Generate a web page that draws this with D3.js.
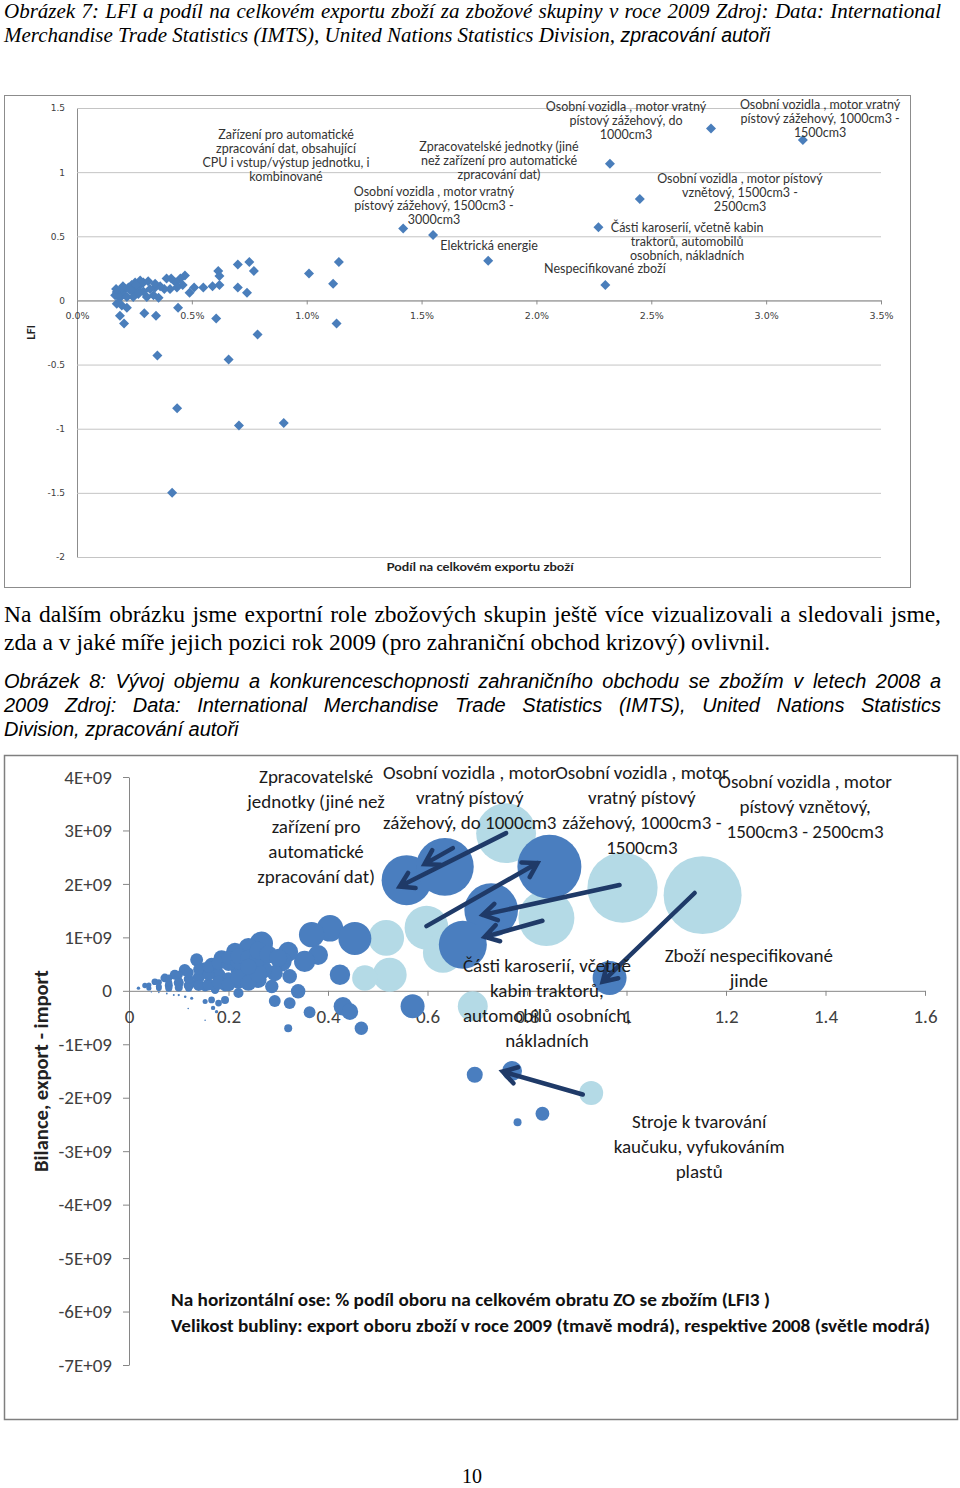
<!DOCTYPE html>
<html><head><meta charset="utf-8">
<script src="https://cdn.jsdelivr.net/npm/d3@7"></script>
<style>
body{margin:0;background:#fff;width:960px;height:1488px;overflow:hidden}
svg{display:block}
</style></head><body>
<script>
// ---------- DATA ----------
// Chart 1: share of total export (%) vs LFI, 2009
const shareTicks = [0, 0.5, 1, 1.5, 2, 2.5, 3, 3.5];
const lfiTicks = [-2, -1.5, -1, -0.5, 0, 0.5, 1, 1.5];
const lfiPoints = [
  [1.42,0.56],[1.55,0.51],[1.79,0.31],[2.32,1.065],[2.76,1.34],[3.16,1.25],[2.45,0.79],[2.27,0.57],[2.30,0.12],
  [0.75,0.30],[0.70,0.28],[0.77,0.23],[0.615,0.23],[0.62,0.19],[1.01,0.21],[1.14,0.30],[1.115,0.13],[0.70,0.10],
  [0.74,0.06],[0.62,0.12],[0.59,0.11],[0.55,0.10],[0.51,0.10],[0.49,0.06],
  [0.47,0.195],[0.45,0.17],[0.41,0.17],[0.43,0.14],[0.46,0.12],[0.435,0.10],[0.405,0.09],[0.38,0.09],[0.39,0.17],
  [0.362,0.11],[0.34,0.10],[0.318,0.09],[0.333,0.04],[0.355,0.02],[0.304,0.026],[0.289,0.07],[0.275,0.12],[0.26,0.09],
  [0.245,0.065],[0.238,0.12],[0.224,0.10],[0.21,0.09],[0.20,0.05],[0.187,0.08],[0.173,0.065],[0.166,0.04],[0.187,0.02],
  [0.217,0.026],[0.245,0.026],[0.267,0.05],[0.289,0.14],[0.275,0.155],[0.253,0.14],[0.231,0.08],[0.31,0.15],[0.34,0.13],
  [0.17,0.09],[0.20,0.11],[0.26,0.12],
  [0.173,-0.026],[0.195,-0.04],[0.217,-0.057],[0.187,-0.12],[0.205,-0.18],[0.293,-0.10],[0.344,-0.12],[0.44,-0.057],
  [0.606,-0.14],[0.786,-0.265],[1.13,-0.18],[0.35,-0.43],[0.66,-0.46],[0.436,-0.84],[0.705,-0.975],[0.90,-0.955],[0.414,-1.50]
];
const lfiLabels = [
  {x:0.91, y:1.29, lines:["Zařízení pro automatické","zpracování dat, obsahující","CPU i vstup/výstup jednotku, i","kombinované"]},
  {x:1.837, y:1.20, lines:["Zpracovatelské jednotky (jiné","než zařízení pro automatické","zpracování dat)"]},
  {x:1.554, y:0.85, lines:["Osobní vozidla , motor vratný","pístový zážehový, 1500cm3 -","3000cm3"]},
  {x:1.794, y:0.43, lines:["Elektrická energie"]},
  {x:2.39, y:1.507, lines:["Osobní vozidla , motor vratný","pístový zážehový, do","1000cm3"]},
  {x:3.235, y:1.523, lines:["Osobní vozidla , motor vratný","pístový zážehový, 1000cm3 -","1500cm3"]},
  {x:2.886, y:0.946, lines:["Osobní vozidla , motor pístový","vznětový, 1500cm3 -","2500cm3"]},
  {x:2.656, y:0.571, lines:["Části karoserií, včetně kabin","traktorů, automobilů","osobních, nákladních"]},
  {x:2.298, y:0.245, lines:["Nespecifikované zboží"]}
];

// Chart 2: LFI3 share vs balance (E+09), bubble = export
const lfi3Ticks = [0, 0.2, 0.4, 0.6, 0.8, 1, 1.2, 1.4, 1.6];
const balanceTicks = [-7,-6,-5,-4,-3,-2,-1,0,1,2,3,4]; // in E+09
const bubbles2008 = [
  [0.758,2.95,56],[0.992,1.93,77],[1.153,1.79,95],[0.598,1.18,30],[0.839,1.36,49],[0.631,0.71,25],
  [0.517,0.99,20],[0.524,0.30,18],[0.691,-0.29,14],[0.929,-1.91,9],[0.474,0.24,10]
];
const bubbles2009 = [
  [0.558,2.07,39],[0.635,2.32,52],[0.845,2.32,64],[0.728,1.51,45],[0.671,0.86,36],[0.966,0.24,18],[0.570,-0.29,9],
  [0.695,-1.57,4],[0.770,-1.50,6.2],[0.831,-2.30,3],[0.781,-2.46,1],
  [0.404,1.17,11],[0.367,1.05,10],[0.454,0.98,17],[0.424,0.30,6.5],[0.38,0.67,6.2],[0.353,0.55,7],[0.32,0.73,6.2],
  [0.307,0.55,6.2],[0.266,0.89,8.5],[0.24,0.80,6.2],[0.213,0.73,5],[0.186,0.61,4],[0.166,0.49,3],[0.136,0.58,2.6],
  [0.112,0.39,2.2],[0.092,0.30,1.6],[0.072,0.24,1.2],[0.052,0.17,0.7],[0.032,0.10,0.45],[0.019,0.05,0.18],
  [0.26,0.21,4.3],[0.287,0.08,2.8],[0.34,-0.01,3.3],[0.323,0.27,3.3],[0.293,0.33,4],[0.22,0.17,3.3],[0.193,0.08,1.6],
  [0.22,-0.04,1.6],[0.153,0.08,1.6],[0.126,0.14,1.1],[0.173,0.02,1.1],
  [0.293,-0.19,2.2],[0.323,-0.23,2.2],[0.363,-0.40,2.2],[0.43,-0.29,5.4],[0.444,-0.39,4.3],[0.467,-0.70,2.8],
  [0.32,-0.70,1],[0.193,-0.17,1],[0.18,-0.23,0.7],[0.166,-0.17,0.7],[0.153,-0.20,0.4],[0.169,-0.32,0.3],[0.176,-0.39,0.18],
  [0.10,0.15,1.6],[0.14,0.25,2.2],[0.18,0.30,3],[0.22,0.40,4],[0.25,0.50,5],[0.27,0.40,5],[0.20,0.22,3],[0.24,0.30,4],
  [0.15,0.42,2.2],[0.08,0.10,1],[0.12,0.05,0.8],[0.06,0.05,0.5],
  [0.04,0.05,0.4],[0.04,0.11,0.4],[0.06,0.08,0.56],[0.06,0.16,0.56],[0.08,0.05,0.77],[0.08,0.15,0.77],[0.08,0.24,0.77],
  [0.10,0.06,1],[0.10,0.18,1],[0.10,0.30,1],[0.12,0.10,1.56],[0.12,0.22,1.56],[0.12,0.34,1.56],
  [0.14,0.10,1.9],[0.14,0.40,1.9],[0.16,0.12,2.25],[0.16,0.30,2.25],[0.16,0.45,2.25],
  [0.18,0.15,3],[0.18,0.52,3],[0.20,0.12,3],[0.20,0.50,3],[0.20,0.62,3],
  [0.22,0.25,4],[0.22,0.55,4],[0.22,0.65,4],[0.24,0.15,4],[0.24,0.62,4],[0.26,0.32,5],[0.26,0.62,5],[0.26,0.75,5],
  [0.28,0.68,5],[0.30,0.62,5],[0.24,0.45,4],
  [0.126,-0.14,0.15],[0.113,-0.11,0.1],[0.10,-0.08,0.08],[0.09,-0.08,0.06],[0.076,-0.05,0.05],[0.153,-0.55,0.04],
  [0.119,-0.33,0.04],[0.06,-0.03,0.04],[0.045,-0.02,0.03]
];
const moveArrows = [ // from 2008 to 2009: [x1,y1,x2,y2]
  [0.758,2.95,0.544,1.95],[0.651,2.67,0.594,2.37],[0.598,1.21,0.821,2.39],[0.986,1.98,0.711,1.42],
  [0.831,1.31,0.715,1.01],[1.137,1.83,0.952,0.17],[0.912,-1.94,0.751,-1.51]
];
const bubbleLabels = [
  {x:0.376, y:4.02, lines:["Zpracovatelské","jednotky (jiné než","zařízení pro","automatické","zpracování dat)"]},
  {x:0.685, y:4.09, lines:["Osobní vozidla , motor","vratný pístový","zážehový, do 1000cm3"]},
  {x:1.031, y:4.09, lines:["Osobní vozidla , motor","vratný pístový","zážehový, 1000cm3 -","1500cm3"]},
  {x:1.359, y:3.91, lines:["Osobní vozidla , motor","pístový vznětový,","1500cm3 - 2500cm3"]},
  {x:1.246, y:0.67, lines:["Zboží nespecifikované","jinde"]},
  {x:0.840, y:0.48, lines:["Části karoserií, včetně","kabin traktorů,","automobilů osobních,","nákladních"]},
  {x:1.146, y:-2.45, lines:["Stroje k tvarování","kaučuku, vyfukováním","plastů"]}
];

// ---------- PAGE ----------
const svg = d3.select('body').append('svg').attr('width',960).attr('height',1488);
const SERIF = '"Liberation Serif", "DejaVu Serif", serif';
const SANS = '"Liberation Sans", Arial, sans-serif';
const CAL = 'Carlito, Lato, "Open Sans", sans-serif';
const LATO = 'Lato, "Open Sans", sans-serif';

function justify(str, x0, x1, y, font, size, style) {
  const words = str.split(' ');
  const nodes = words.map(w => svg.append('text').attr('y', y).attr('font-family', font)
      .attr('font-size', size).attr('font-style', style || 'normal').attr('fill','#000').text(w));
  const widths = nodes.map(n => n.node().getComputedTextLength());
  const gap = (x1 - x0 - d3.sum(widths)) / (words.length - 1);
  let x = x0;
  nodes.forEach((n, i) => { n.attr('x', x); x += widths[i] + gap; });
}

// Caption 7
justify("Obrázek 7: LFI a podíl na celkovém exportu zboží za zbožové skupiny v roce 2009 Zdroj: Data: International", 4, 941, 18, SERIF, 21, 'italic');
const c7 = svg.append('text').attr('x',4).attr('y',42).attr('font-size',21).attr('font-style','italic');
c7.append('tspan').attr('font-family',SERIF).text("Merchandise Trade Statistics (IMTS), United Nations Statistics Division, ");
c7.append('tspan').attr('font-family',SANS).attr('font-size',19.5).text("zpracování autoři");

// Paragraph
justify("Na dalším obrázku jsme exportní role zbožových skupin ještě více vizualizovali a sledovali jsme,", 4, 941, 622, SERIF, 23.5);
svg.append('text').attr('x',4).attr('y',650).attr('font-family',SERIF).attr('font-size',23.5).text("zda a v jaké míře jejich pozici rok 2009 (pro zahraniční obchod krizový) ovlivnil.");

// Caption 8
justify("Obrázek 8: Vývoj objemu a konkurenceschopnosti zahraničního obchodu se zbožím v letech 2008 a", 4, 941, 688, SANS, 20, 'italic');
justify("2009 Zdroj: Data: International Merchandise Trade Statistics (IMTS), United Nations Statistics", 4, 941, 712, SANS, 20, 'italic');
svg.append('text').attr('x',4).attr('y',736).attr('font-family',SANS).attr('font-size',20).attr('font-style','italic').text("Division, zpracování autoři");

// Page number
svg.append('text').attr('x',472).attr('y',1483).attr('text-anchor','middle').attr('font-family',SERIF).attr('font-size',20).text("10");

// ---------- CHART 1 ----------
const topX = d3.scaleLinear().domain([0,3.5]).range([77,881]);
const topY = d3.scaleLinear().domain([-2,1.5]).range([557,108]);
const gT = svg.append('g');
gT.append('rect').attr('x',4.5).attr('y',95.5).attr('width',906).attr('height',492)
  .attr('fill','#fff').attr('stroke','#8c8c8c');

const yAxT = gT.append('g').attr('transform',`translate(${topX(0)},0)`)
  .call(d3.axisLeft(topY).tickValues(lfiTicks).tickSize(-(topX(3.5)-topX(0))).tickSizeOuter(0)
    .tickPadding(12).tickFormat(d => String(d)));
yAxT.select('.domain').attr('stroke','#8c8c8c');
yAxT.selectAll('.tick line').attr('stroke','#c4c4c4');
yAxT.selectAll('.tick text').attr('font-family','"DejaVu Sans", sans-serif').attr('font-size',9).attr('fill','#404040');

const xAxT = gT.append('g').attr('transform',`translate(0,${topY(0)})`)
  .call(d3.axisBottom(topX).tickValues(shareTicks).tickSize(4).tickSizeOuter(0)
    .tickPadding(8).tickFormat(d => d.toFixed(1) + '%'));
xAxT.select('.domain').attr('stroke','#8c8c8c');
xAxT.selectAll('.tick line').attr('stroke','#8c8c8c');
xAxT.selectAll('.tick text').attr('font-family','"DejaVu Sans", sans-serif').attr('font-size',9.5).attr('fill','#404040');

gT.selectAll('path.pt').data(lfiPoints).join('path').attr('class','pt')
  .attr('d', d3.symbol(d3.symbolSquare, 50))
  .attr('transform', d => `translate(${topX(d[0])},${topY(d[1])}) rotate(45)`)
  .attr('fill','#4A7EBB');

lfiLabels.forEach(l => {
  const t = gT.append('text').attr('text-anchor','middle').attr('font-family',LATO)
    .attr('font-size',12.5).attr('fill','#333');
  l.lines.forEach((s,i) => t.append('tspan').attr('x',topX(l.x)).attr('y',topY(l.y)+i*14).attr('dy','0.35em').text(s));
});

gT.append('text').attr('transform',`translate(35,${(topY(1.5)+topY(-2))/2}) rotate(-90)`)
  .attr('text-anchor','middle').attr('font-family',LATO).attr('font-weight','bold').attr('font-size',10.5).attr('fill','#222').text('LFI');
gT.append('text').attr('x',480).attr('y',571).attr('text-anchor','middle').attr('font-family',LATO)
  .attr('font-weight','bold').attr('font-size',11.5).attr('fill','#222').attr('textLength',187)
  .attr('lengthAdjust','spacingAndGlyphs').text('Podíl na celkovém exportu zboží');

// ---------- CHART 2 ----------
const botX = d3.scaleLinear().domain([0,1.6]).range([129,925]);
const botY = d3.scaleLinear().domain([-7,4]).range([1365,777]);
const rScale = d3.scaleSqrt().domain([0,100]).range([0,40]);
const gB = svg.append('g');
gB.append('rect').attr('x',4.5).attr('y',755.5).attr('width',953).attr('height',664)
  .attr('fill','#fff').attr('stroke','#7f7f7f').attr('stroke-width',1.5);

const yAxB = gB.append('g').attr('transform',`translate(${botX(0)},0)`)
  .call(d3.axisLeft(botY).tickValues(balanceTicks).tickSize(6).tickSizeOuter(0).tickPadding(11)
    .tickFormat(d => d === 0 ? '0' : (d < 0 ? '-' : '') + Math.abs(d) + 'E+09'));
const xAxB = gB.append('g').attr('transform',`translate(0,${botY(0)})`)
  .call(d3.axisBottom(botX).tickValues(lfi3Ticks).tickSize(5).tickSizeOuter(0).tickPadding(14)
    .tickFormat(d => String(d)));
[yAxB, xAxB].forEach(a => {
  a.select('.domain').attr('stroke','#868686');
  a.selectAll('.tick line').attr('stroke','#868686');
  a.selectAll('.tick text').attr('font-family',CAL).attr('font-size',19).attr('fill','#404040');
});

gB.selectAll('circle.b08').data(bubbles2008).join('circle').attr('class','b08')
  .attr('cx', d => botX(d[0])).attr('cy', d => botY(d[1])).attr('r', d => rScale(d[2]))
  .attr('fill','#B4DAE6');
gB.selectAll('circle.b09').data(bubbles2009).join('circle').attr('class','b09')
  .attr('cx', d => botX(d[0])).attr('cy', d => botY(d[1])).attr('r', d => rScale(d[2]))
  .attr('fill','#4A7EBF');

const arrowG = gB.append('g').attr('stroke','#1F3A68').attr('stroke-width',4.5)
  .attr('stroke-linecap','round').attr('fill','none');
moveArrows.forEach(a => {
  const x1 = botX(a[0]), y1 = botY(a[1]), x2 = botX(a[2]), y2 = botY(a[3]);
  const ang = Math.atan2(y2 - y1, x2 - x1), L = 16, w = 0.55;
  arrowG.append('path').attr('d',
    `M${x1},${y1}L${x2},${y2}` +
    `M${x2 - L*Math.cos(ang - w)},${y2 - L*Math.sin(ang - w)}L${x2},${y2}` +
    `L${x2 - L*Math.cos(ang + w)},${y2 - L*Math.sin(ang + w)}`);
});

bubbleLabels.forEach(l => {
  const t = gB.append('text').attr('text-anchor','middle').attr('font-family',CAL)
    .attr('font-size',19).attr('fill','#1a1a1a');
  l.lines.forEach((s,i) => t.append('tspan').attr('x',botX(l.x)).attr('y',botY(l.y)+i*25).attr('dy','0.35em').text(s));
});

gB.append('text').attr('transform',`translate(48,1071) rotate(-90)`).attr('text-anchor','middle')
  .attr('font-family',CAL).attr('font-weight','bold').attr('font-size',20).attr('fill','#222')
  .attr('textLength',202).attr('lengthAdjust','spacingAndGlyphs').text('Bilance, export - import');
gB.append('text').attr('x',171).attr('y',1306).attr('font-family',CAL).attr('font-weight','bold')
  .attr('font-size',19).attr('fill','#111').attr('textLength',599).attr('lengthAdjust','spacingAndGlyphs')
  .text('Na horizontální ose: % podíl oboru na celkovém obratu ZO se zbožím (LFI3 )');
gB.append('text').attr('x',171).attr('y',1332).attr('font-family',CAL).attr('font-weight','bold')
  .attr('font-size',19).attr('fill','#111').attr('textLength',759).attr('lengthAdjust','spacingAndGlyphs')
  .text('Velikost bubliny: export oboru zboží v roce 2009 (tmavě modrá), respektive 2008 (světle modrá)');
</script></body></html>
